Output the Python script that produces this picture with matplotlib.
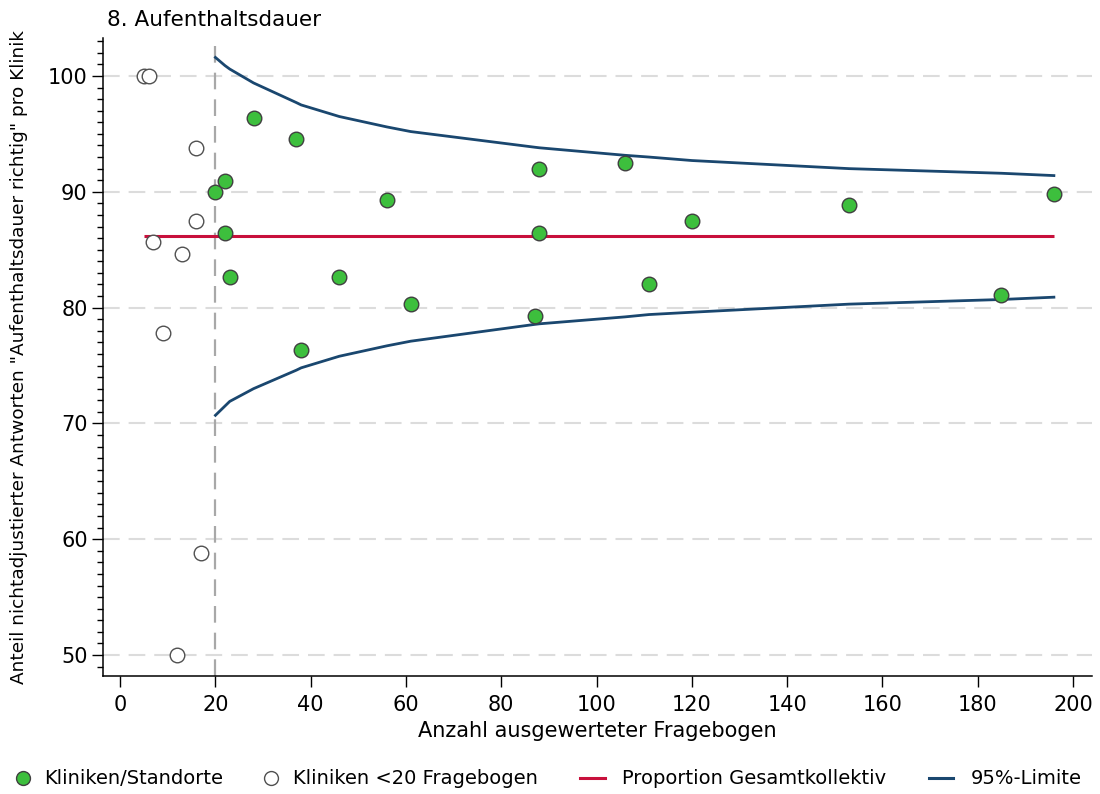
import matplotlib
matplotlib.use("Agg")
import matplotlib.pyplot as plt
from matplotlib.lines import Line2D
from matplotlib.ticker import MultipleLocator

plt.rcParams['font.family'] = ['DejaVu Sans']

# Clinics with >= 20 questionnaires
n_main = [20, 22, 22, 23, 28, 37, 38, 46, 56, 61, 88, 88, 87, 106, 111, 120, 153, 185, 196]
p_main = [90.0, 90.9, 86.4, 82.6, 96.4, 94.6, 76.3, 82.6, 89.3, 80.3,
          92.0, 86.4, 79.3, 92.5, 82.0, 87.5, 88.9, 81.1, 89.8]

# Clinics with < 20 questionnaires
n_small = [5, 6, 16, 16, 7, 13, 9, 17, 12]
p_small = [100.0, 100.0, 93.75, 87.5, 85.7, 84.6, 77.8, 58.8, 50.0]

# Overall proportion
overall_x = [5, 196]
overall_p = [86.2, 86.2]

# 95% limits
lim_n = [20, 22, 23, 28, 37, 38, 46, 56, 61, 87, 88, 106, 111, 120, 153, 185, 196]
lim_upper = [101.6, 100.9, 100.6, 99.4, 97.7, 97.5, 96.5, 95.6, 95.2, 93.85,
             93.8, 93.15, 93.0, 92.7, 92.0, 91.6, 91.4]
lim_lower = [70.7, 71.5, 71.9, 73.0, 74.6, 74.8, 75.8, 76.7, 77.1, 78.55,
             78.6, 79.2, 79.4, 79.6, 80.3, 80.7, 80.9]

x_ticks = [0, 20, 40, 60, 80, 100, 120, 140, 160, 180, 200]
y_ticks = [50, 60, 70, 80, 90, 100]

GREEN = '#3dbf3d'
RED = '#c8103c'
BLUE = '#1a476f'
EDGE = '#404040'

W, H = 1100, 794
fig = plt.figure(figsize=(W / 100, H / 100), dpi=100)
ax = fig.add_axes([103 / W, 1 - 676 / H, (1092 - 103) / W, (676 - 38) / H])

ax.set_xlim(-3.6, 204)
ax.set_ylim(48.19, 103.28)

# horizontal grid
for yv in y_ticks:
    ax.axhline(yv, color='#dcdcdc', lw=1.5, dashes=(8, 4.3), zorder=1)
# cut-off at 20 questionnaires
ax.axvline(20, color='#a8a8a8', lw=1.6, dashes=(7.5, 4.5), zorder=1)

ax.plot(overall_x, overall_p, color=RED, lw=2.2, zorder=2, solid_capstyle='butt')
ax.plot(lim_n, lim_upper, color=BLUE, lw=2.0, zorder=2)
ax.plot(lim_n, lim_lower, color=BLUE, lw=2.0, zorder=2)

ax.scatter(n_small, p_small, s=110, facecolor='white', edgecolor='#505050',
           linewidths=1.0, zorder=3)
ax.scatter(n_main, p_main, s=110, facecolor=GREEN, edgecolor=EDGE,
           linewidths=1.0, zorder=4)

for side in ['top', 'right']:
    ax.spines[side].set_visible(False)
for side in ['left', 'bottom']:
    ax.spines[side].set_linewidth(1.1)

ax.set_xticks(x_ticks)
ax.set_yticks(y_ticks)
ax.yaxis.set_minor_locator(MultipleLocator(1))
ax.tick_params(axis='both', which='major', length=8, width=1.0, labelsize=15)
ax.tick_params(axis='y', which='minor', length=4.3, width=1.0)
ax.tick_params(axis='x', which='major', pad=6)
ax.tick_params(axis='y', which='major', pad=3)

ax.set_xlabel('Anzahl ausgewerteter Fragebogen', fontsize=15, labelpad=4)
ax.set_ylabel('Anteil nichtadjustierter Antworten "Aufenthaltsdauer richtig" pro Klinik',
              fontsize=13.3)
ax.yaxis.set_label_coords(-(103 - 28) / (1092 - 103), 0.5)

fig.text(107 / W, 1 - 20 / H, '8. Aufenthaltsdauer', fontsize=15.5,
         ha='left', va='center')

# legend row
ly = 1 - 778 / H
fig.add_artist(Line2D([23 / W], [ly], marker='o', ms=10, mfc=GREEN, mec=EDGE,
                      mew=1.0, ls='none', transform=fig.transFigure))
fig.text(44 / W, ly, 'Kliniken/Standorte', fontsize=14, ha='left', va='center')
fig.add_artist(Line2D([271 / W], [ly], marker='o', ms=10, mfc='white', mec='#505050',
                      mew=1.0, ls='none', transform=fig.transFigure))
fig.text(293 / W, ly, 'Kliniken <20 Fragebogen', fontsize=14, ha='left', va='center')
fig.add_artist(Line2D([580 / W, 605 / W], [ly, ly], color=RED, lw=2.2,
                      transform=fig.transFigure))
fig.text(622 / W, ly, 'Proportion Gesamtkollektiv', fontsize=14, ha='left', va='center')
fig.add_artist(Line2D([929 / W, 953 / W], [ly, ly], color=BLUE, lw=2.2,
                      transform=fig.transFigure))
fig.text(971 / W, ly, '95%-Limite', fontsize=14, ha='left', va='center')

fig.savefig('out.png', dpi=100)
